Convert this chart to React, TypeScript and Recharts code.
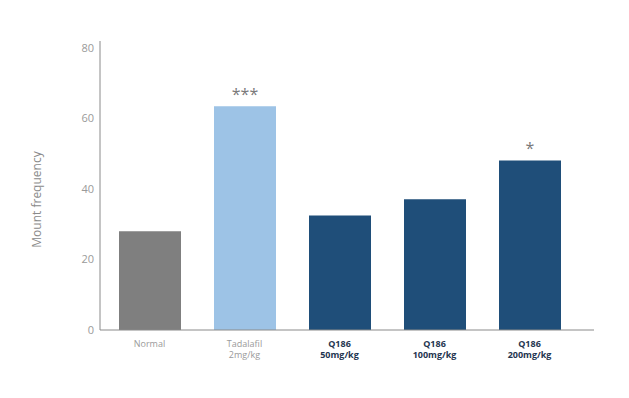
import React from "react";
import { BarChart, Bar, XAxis, YAxis, Cell, LabelList } from "recharts";

const categories = ["Normal", "Tadalafil 2mg/kg", "Q186 50mg/kg", "Q186 100mg/kg", "Q186 200mg/kg"];
const labelLine1 = ["Normal", "Tadalafil", "Q186", "Q186", "Q186"];
const labelLine2 = ["", "2mg/kg", "50mg/kg", "100mg/kg", "200mg/kg"];
const values = [28, 63.5, 32.5, 37.1, 48.1];
const significance = ["", "***", "", "", "*"];
const barColors = ["#7f7f7f", "#9dc3e6", "#1f4e79", "#1f4e79", "#1f4e79"];
const labelBold = [false, false, true, true, true];
const yTicks = [0, 20, 40, 60, 80];

const data = categories.map((c, i) => ({
  name: c,
  idx: i,
  value: values[i],
  sig: significance[i],
}));

const FONT = "'Open Sans', 'Noto Sans', sans-serif";

const XTick = (props: any) => {
  const { x, y, payload } = props;
  const i = payload.index;
  const bold = labelBold[i];
  const color = bold ? "#1f3550" : "#9a9a9a";
  return (
    <g>
      <text x={x} y={y + 8.5} textAnchor="middle" fontFamily={FONT} fontSize={9} fontWeight={bold ? 700 : 400} fill={color}>
        {labelLine1[i]}
      </text>
      {labelLine2[i] && (
        <text x={x} y={y + 20} textAnchor="middle" fontFamily={FONT} fontSize={9} fontWeight={bold ? 700 : 400} fill={color}>
          {labelLine2[i]}
        </text>
      )}
    </g>
  );
};

const SigLabel = (props: any) => {
  const { x, y, width, value } = props;
  if (!value) return null;
  return (
    <text x={x + width / 2} y={y - 6} textAnchor="middle" fontFamily={FONT} fontSize={16} fill="#7a7a7a">
      {value}
    </text>
  );
};

export default function App() {
  return (
    <div style={{ width: 629, height: 398 }}>
      <style>{"body{margin:0}"}</style>
      <BarChart
        width={629}
        height={398}
        data={data}
        margin={{ top: 41, right: 35, bottom: 0, left: 0 }}
        barCategoryGap={0}
      >
        <XAxis
          dataKey="name"
          interval={0}
          tick={<XTick />}
          tickLine={false}
          axisLine={{ stroke: "#8a8a8a" }}
          padding={{ left: 2, right: 17 }}
          height={68}
        />
        <YAxis
          domain={[0, 82]}
          ticks={yTicks}
          allowDataOverflow
          width={100}
          tickLine={false}
          axisLine={{ stroke: "#8a8a8a" }}
          tick={{ fontFamily: FONT, fontSize: 11, fill: "#9a9a9a" }}
          tickMargin={0}
          label={{
            value: "Mount frequency",
            angle: -90,
            position: "insideLeft",
            dx: 32,
            dy: 14,
            style: { fontFamily: FONT, fontSize: 12, fill: "#8a8a8a", textAnchor: "middle" },
          }}
        />
        <Bar dataKey="value" barSize={62} isAnimationActive={false}>
          {data.map((d, i) => (
            <Cell key={i} fill={barColors[i]} />
          ))}
          <LabelList dataKey="sig" content={<SigLabel />} />
        </Bar>
      </BarChart>
    </div>
  );
}
